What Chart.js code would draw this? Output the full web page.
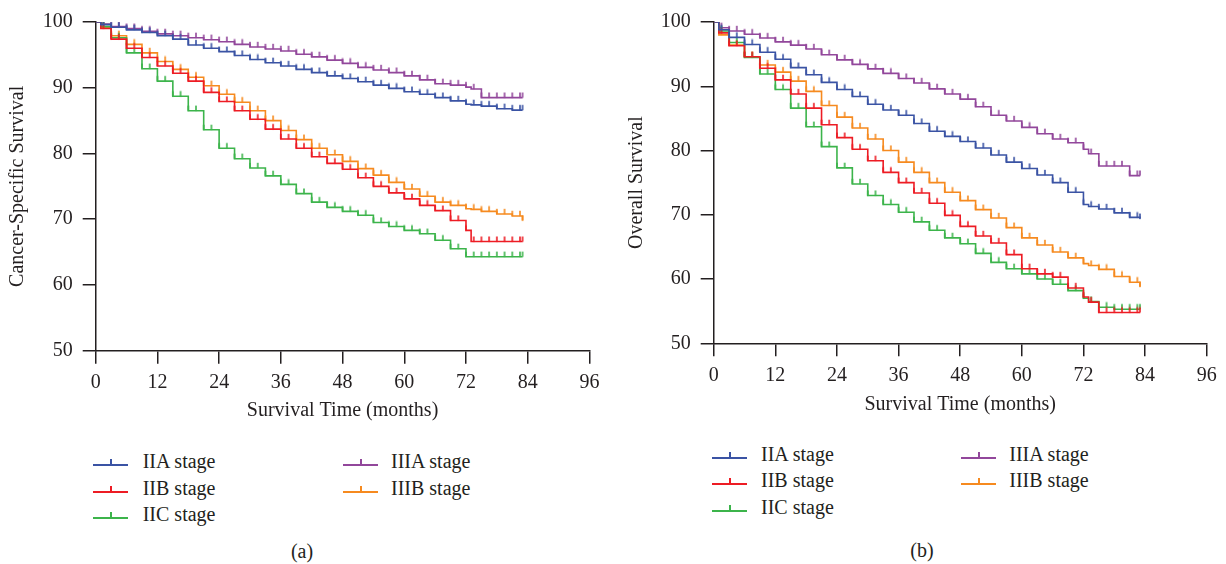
<!DOCTYPE html>
<html><head><meta charset="utf-8">
<script src="https://cdn.jsdelivr.net/npm/chart.js@4.4.0/dist/chart.umd.min.js"></script>
<style>
html,body{margin:0;padding:0;background:#fff;width:1226px;height:564px;overflow:hidden;font-family:"Liberation Serif","Times New Roman",serif;color:#231f20}
.box{position:absolute;top:0;width:613px;height:430px}
.txt{position:absolute;font-size:20px;line-height:24px;white-space:nowrap;color:#231f20}
.sym{position:absolute;width:35px;height:2px}
.sym i{position:absolute;left:17px;top:-5px;width:2px;height:5px}
</style></head><body>
<div class="box" style="left:0"><canvas id="c1" width="613" height="430"></canvas></div>
<div class="box" style="left:613px"><canvas id="c2" width="613" height="430"></canvas></div>
<script>
// ---- data ----
const months = [0,1,3,6,9,12,15,18,21,24,27,30,33,36,39,42,45,48,51,54,57,60,63,66,69,72,73,75,78,81,83];
const censorMonths = [1.5,3,4.5,6,7.5,9,10.5,12,13.5,15,16.5,18,19.5,21,22.5,24,25.5,27,28.5,30,31.5,33,34.5,36,37.5,39,40.5,42,43.5,45,46.5,48,49.5,51,52.5,54,55.5,57,58.5,60,61.5,63,64.5,66,67.5,69,70.5,72,73.5,75,76.5,78,79.5,81,82.5,83];
const xTicks = [0,12,24,36,48,60,72,84,96];
const yTicks = [50,60,70,80,90,100];
const stageLabels = ['IIA stage','IIB stage','IIC stage','IIIA stage','IIIB stage'];
const stageColors = ['#3a53a4','#ed1c24','#3cb44b','#92479b','#f68a1f'];

// Cancer-specific survival (a)
const cssIIA  = [100,99.6,99.2,98.8,98.4,97.9,97.4,96.5,96.0,95.5,94.9,94.3,93.8,93.3,92.8,92.3,91.8,91.4,90.9,90.4,89.9,89.4,89.0,88.5,88.0,87.5,87.4,87.2,86.8,86.6,86.6];
const cssIIB  = [100,99.0,97.4,96.0,94.6,93.3,92.2,91.0,89.3,87.9,86.5,85.2,83.7,82.2,80.8,79.5,78.5,77.6,76.3,75.0,74.0,73.1,72.1,71.3,69.8,68.3,66.6,66.6,66.6,66.6,66.6];
const cssIIC  = [100,99.3,97.6,95.3,92.9,91.0,88.7,86.5,83.6,80.8,79.2,77.8,76.6,75.3,73.9,72.6,71.8,71.2,70.6,69.5,68.9,68.3,67.8,66.8,65.5,64.3,64.3,64.3,64.3,64.3,64.3];
const cssIIIA = [100,99.7,99.3,99.0,98.6,98.2,97.9,97.6,97.3,97.0,96.6,96.2,95.9,95.6,95.1,94.7,94.2,93.7,93.1,92.7,92.3,91.8,91.2,90.6,90.4,90.1,89.8,88.5,88.5,88.5,88.5];
const cssIIIB = [100,99.2,97.9,96.6,95.3,94.0,92.8,91.6,90.3,89.0,87.8,86.5,85.0,83.5,82.1,80.8,79.8,78.8,77.7,76.7,75.6,74.6,73.5,72.6,72.1,71.6,71.5,71.2,70.8,70.5,69.8];

// Overall survival (b)
const osIIA  = [100,98.8,97.6,96.5,95.3,94.2,92.9,91.8,90.6,89.5,88.4,87.2,86.3,85.5,84.2,83.0,82.2,81.4,80.4,79.3,78.2,77.2,76.2,75.0,73.5,71.6,71.3,70.9,70.3,69.6,69.4];
const osIIB  = [100,98.3,96.3,94.6,92.8,91.0,88.8,86.6,84.0,82.0,80.2,78.4,76.6,75.0,73.4,71.8,69.9,68.2,66.7,65.6,63.8,61.6,60.8,60.3,58.6,57.2,56.4,54.8,54.8,54.8,54.8];
const osIIC  = [100,98.6,96.8,94.5,91.9,89.5,86.6,83.7,80.6,77.3,74.8,73.0,71.6,70.4,68.9,67.6,66.4,65.5,64.0,62.6,61.6,60.8,60.0,59.2,58.2,57.0,56.5,55.6,55.3,55.3,55.3];
const osIIIA = [100,99.1,98.6,98.1,97.5,96.9,96.4,95.8,94.9,94.1,93.4,92.7,92.0,91.2,90.5,89.6,88.8,88.0,86.8,85.5,84.6,83.6,82.6,81.8,81.2,80.2,79.5,77.6,77.6,76.1,76.1];
const osIIIB = [100,98.0,96.4,94.6,93.3,92.2,90.8,89.2,87.0,85.2,83.5,81.8,80.0,78.2,76.6,75.0,73.5,72.2,70.8,69.5,68.0,66.4,65.3,64.2,63.3,62.4,62.1,61.5,60.4,59.5,58.8];

const FONT = '"Liberation Serif","Times New Roman",serif';
const INK = '#231f20';

function stepAt(vals, t){
  let v = vals[0];
  for (let i = 0; i < months.length; i++) if (months[i] <= t) v = vals[i];
  return v;
}
function tickImg(color){
  const c = document.createElement('canvas');
  c.width = 4; c.height = 12;
  const g = c.getContext('2d');
  g.fillStyle = color;
  g.fillRect(1.2, 0.8, 1.6, 5.4);
  return c;
}
function datasets(series){
  const out = [];
  series.forEach((vals, k) => {
    out.push({
      type: 'line', label: stageLabels[k],
      data: months.map((m, i) => ({x: m, y: vals[i]})),
      borderColor: stageColors[k], borderWidth: 1.6, stepped: true,
      pointRadius: 0, fill: false
    });
    out.push({
      type: 'scatter', label: stageLabels[k] + ' censored',
      data: censorMonths.map(t => ({x: t, y: stepAt(vals, t)})),
      pointStyle: tickImg(stageColors[k]), pointRadius: 6, showLine: false
    });
  });
  return out;
}
function makeChart(id, series, yTitle, g){
  new Chart(document.getElementById(id), {
    type: 'line',
    data: {datasets: datasets(series)},
    options: {
      responsive: false, animation: false, events: [],
      layout: {padding: {top: g.top, right: g.right, left: 0, bottom: 0}},
      plugins: {legend: {display: false}, tooltip: {enabled: false}},
      scales: {
        x: {
          type: 'linear', min: 0, max: 96,
          afterBuildTicks: s => { s.ticks = xTicks.map(v => ({value: v})); },
          afterFit: s => { s.height = g.xh; },
          grid: {drawOnChartArea: false, drawTicks: true, tickLength: 13, color: INK, lineWidth: 1.5},
          border: {color: INK, width: 1.5},
          ticks: {color: INK, font: {family: FONT, size: 20, lineHeight: 1.2}, padding: 7, maxRotation: 0, autoSkip: false},
          title: {display: true, text: 'Survival Time (months)', color: INK,
                  font: {family: FONT, size: 20, lineHeight: 1.2}, padding: {top: 0, bottom: g.xtb}}
        },
        y: {
          type: 'linear', min: 50, max: 100,
          afterBuildTicks: s => { s.ticks = yTicks.map(v => ({value: v})); },
          afterFit: s => { s.width = g.yw; },
          grid: {drawOnChartArea: false, drawTicks: true, tickLength: 13, color: INK, lineWidth: 1.5},
          border: {color: INK, width: 1.5},
          ticks: {color: INK, font: {family: FONT, size: 20, lineHeight: 1.2}, padding: 10, autoSkip: false},
          title: {display: true, text: yTitle, color: INK,
                  font: {family: FONT, size: 20, lineHeight: 1.2}, padding: {top: g.ytp, bottom: 0}}
        }
      }
    }
  });
}
makeChart('c1', [cssIIA, cssIIB, cssIIC, cssIIIA, cssIIIB], 'Cancer-Specific Survival',
  {top: 20.7, right: 23.6, xh: 79.3, yw: 95.7, xtb: 7, ytp: 6});
makeChart('c2', [osIIA, osIIB, osIIC, osIIIA, osIIIB], 'Overall Survival',
  {top: 20.7, right: 19.3, xh: 86.7, yw: 100.7, xtb: 13, ytp: 12});

// ---- HTML legends and captions ----
function addText(str, left, baseline, center){
  const d = document.createElement('div');
  d.className = 'txt'; d.textContent = str;
  d.style.top = (baseline - 18.8) + 'px';
  d.style.left = left + 'px';
  if (center) d.style.transform = 'translateX(-50%)';
  document.body.appendChild(d);
}
function addLegend(lx, tx, rows, lx2, tx2){
  const cols = [[0,1,2],[3,4]];
  cols.forEach((idx, c) => {
    idx.forEach((k, r) => {
      const s = document.createElement('div');
      s.className = 'sym';
      s.style.left = Math.round(c ? lx2 : lx) + 'px';
      s.style.top = Math.round(rows[r] - 4) + 'px';
      s.style.background = stageColors[k];
      const t = document.createElement('i');
      t.style.background = stageColors[k];
      s.appendChild(t);
      document.body.appendChild(s);
      addText(stageLabels[k], c ? tx2 : tx, rows[r], false);
    });
  });
}
addLegend(93.3, 142.7, [468, 494.5, 521], 342.7, 391);
addLegend(712.3, 761, [461, 487, 513.5], 960.7, 1009.3);
addText('(a)', 302, 558, true);
addText('(b)', 922, 556.7, true);
</script>
</body></html>
